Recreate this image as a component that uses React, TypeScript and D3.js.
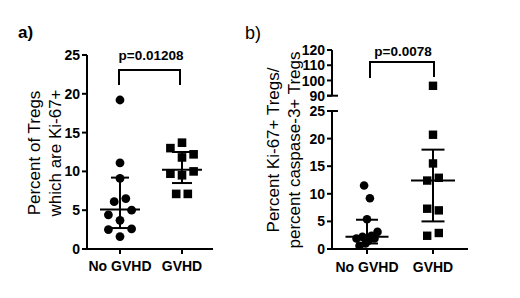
import React from "react";
import * as d3 from "d3";

// ---------- data ----------
const categories = ["No GVHD", "GVHD"];

// Panel a: percent of Tregs which are Ki-67+
const aNoGvhd = [1.6, 2.5, 2.6, 3.7, 4.4, 5.0, 6.1, 6.5, 9.1, 11.1, 19.2];
const aGvhd = [7.1, 7.1, 9.5, 9.7, 10.0, 11.8, 13.0, 12.2, 13.7];
// [center, lower, upper]
const aNoGvhdBar = [5.1, 2.7, 9.2];
const aGvhdBar = [10.2, 8.5, 12.5];
const aTicks = [0, 5, 10, 15, 20, 25];
const aP = "p=0.01208";

// Panel b: ratio Ki-67+ / caspase-3+ Tregs (broken axis)
const bNoGvhd = [11.5, 9.2, 5.4, 1.0, 1.5, 2.2, 2.4, 0.6, 1.9, 1.9, 3.1];
const bGvhd = [2.4, 2.9, 7.3, 7.0, 12.4, 12.9, 15.5, 20.7, 96.5];
const bNoGvhdBar = [2.2, 1.0, 5.3];
const bGvhdBar = [12.4, 5.0, 18.0];
const bTicksLow = [0, 5, 10, 15, 20, 25];
const bTicksHigh = [90, 100, 110, 120];
const bP = "p=0.0078";

// ---------- layout ----------
const FONT = "'Liberation Sans', Arial, Helvetica, sans-serif";
const BASE_Y = 249;

const yA = d3.scaleLinear().domain([0, 25]).range([BASE_Y, 55]);
const xA = d3.scalePoint<string>().domain(categories).range([120, 182]);

const yBLow = d3.scaleLinear().domain([0, 25]).range([BASE_Y, 111]);
const yBHigh = d3.scaleLinear().domain([90, 120]).range([95.7, 50]);
const yB = (v: number) => (v >= 90 ? yBHigh(v) : yBLow(v));
const xB = d3.scalePoint<string>().domain(categories).range([367, 433]);

// GraphPad-like scatter: group into rows by pixel height, spread each row symmetrically
function swarm(values: number[], y: (v: number) => number, rowH: number, step: number, maxHalf: number) {
  const idx = values.map((_, i) => i).sort((a, b) => y(values[b]) - y(values[a]));
  const offs = new Array(values.length).fill(0);
  let i = 0;
  while (i < idx.length) {
    const start = y(values[idx[i]]);
    const row = [idx[i]];
    let j = i + 1;
    while (j < idx.length && start - y(values[idx[j]]) < rowH) {
      row.push(idx[j]);
      j++;
    }
    row.sort((a, b) => a - b);
    const k = row.length;
    const s = k > 1 ? Math.min(step, (2 * maxHalf) / (k - 1)) : step;
    const slots = d3.range(k).map((m) => (m - (k - 1) / 2) * s);
    slots.sort((p, q) => Math.abs(p) - Math.abs(q) || p - q);
    row.forEach((r, m) => (offs[r] = slots[m]));
    i = j;
  }
  return offs;
}

function ErrorBar({ cx, bar, y, half, cap }: { cx: number; bar: number[]; y: (v: number) => number; half: number; cap: number }) {
  const [c, lo, hi] = bar;
  return (
    <g stroke="#000" strokeWidth={2}>
      <line x1={cx} x2={cx} y1={y(lo)} y2={y(hi)} />
      <line x1={cx - half} x2={cx + half} y1={y(c)} y2={y(c)} />
      <line x1={cx - cap} x2={cx + cap} y1={y(lo)} y2={y(lo)} />
      <line x1={cx - cap} x2={cx + cap} y1={y(hi)} y2={y(hi)} />
    </g>
  );
}

function Circles({ values, cx, y, offs, r }: { values: number[]; cx: number; y: (v: number) => number; offs: number[]; r: number }) {
  return (
    <g fill="#000">
      {values.map((v, i) => (
        <circle key={i} cx={cx + offs[i]} cy={y(v)} r={r} />
      ))}
    </g>
  );
}

function Squares({ values, cx, y, offs, s }: { values: number[]; cx: number; y: (v: number) => number; offs: number[]; s: number }) {
  return (
    <g fill="#000">
      {values.map((v, i) => (
        <rect key={i} x={cx + offs[i] - s / 2} y={y(v) - s / 2} width={s} height={s} />
      ))}
    </g>
  );
}

export default function App() {
  const axA = 87;
  const axB = 332;
  const tickStyle = { fontFamily: FONT, fontSize: 14, fontWeight: 700 as const };

  const offANo = swarm(aNoGvhd, yA, 11, 11.6, 20);
  const offAG = swarm(aGvhd, yA, 11, 11.6, 20);
  const offBNo = swarm(bNoGvhd, yB, 14, 5.8, 10.5);
  const offBG = swarm(bGvhd, yB, 11, 11.6, 20);

  return (
    <svg width={520} height={298} style={{ position: "absolute", left: 0, top: 0, background: "#fff" }}>
      <rect width={520} height={298} fill="#fff" />

      {/* ---------- Panel a ---------- */}
      <text x={18} y={38} fontFamily={FONT} fontSize={17} fontWeight={700}>a)</text>

      {/* y axis */}
      <line x1={axA} x2={axA} y1={yA(25)} y2={BASE_Y + 1} stroke="#000" strokeWidth={2} />
      {aTicks.map((t) => (
        <g key={t}>
          <line x1={axA - 5} x2={axA} y1={yA(t)} y2={yA(t)} stroke="#000" strokeWidth={2} />
          <text x={axA - 7} y={yA(t)} dy="0.36em" textAnchor="end" {...tickStyle}>{t}</text>
        </g>
      ))}
      {/* x axis */}
      <line x1={axA - 1} x2={213} y1={BASE_Y} y2={BASE_Y} stroke="#000" strokeWidth={2} />
      {categories.map((c) => (
        <g key={c}>
          <line x1={xA(c)!} x2={xA(c)!} y1={BASE_Y} y2={BASE_Y + 5} stroke="#000" strokeWidth={2} />
          <text x={xA(c)!} y={271} textAnchor="middle" {...tickStyle}>{c}</text>
        </g>
      ))}
      {/* axis title */}
      <g transform={`translate(0,153) rotate(-90)`} fontFamily={FONT} fontSize={17}>
        <text x={0} y={40} textAnchor="middle">Percent of Tregs</text>
        <text x={0} y={61} textAnchor="middle">which are Ki-67+</text>
      </g>
      {/* bracket */}
      <path
        d={`M${xA("No GVHD")! - 1},${85} V${70} H${xA("GVHD")! - 2} V${85}`}
        fill="none" stroke="#000" strokeWidth={2}
      />
      <text x={(xA("No GVHD")! + xA("GVHD")!) / 2} y={60} textAnchor="middle" fontFamily={FONT} fontSize={13.5} fontWeight={700}>{aP}</text>

      <Circles values={aNoGvhd} cx={xA("No GVHD")!} y={yA} offs={offANo} r={4.4} />
      <Squares values={aGvhd} cx={xA("GVHD")!} y={yA} offs={offAG} s={8.6} />
      <ErrorBar cx={xA("No GVHD")!} bar={aNoGvhdBar} y={yA} half={20} cap={9} />
      <ErrorBar cx={xA("GVHD")!} bar={aGvhdBar} y={yA} half={20} cap={10} />

      {/* ---------- Panel b ---------- */}
      <text x={245} y={39} fontFamily={FONT} fontSize={18}>b)</text>

      {/* upper y segment */}
      <line x1={axB} x2={axB} y1={yBHigh(120)} y2={yBHigh(90)} stroke="#000" strokeWidth={2} />
      <line x1={axB - 5} x2={axB + 6} y1={yBHigh(90)} y2={yBHigh(90)} stroke="#000" strokeWidth={2} />
      {bTicksHigh.map((t) => (
        <g key={t}>
          <line x1={axB - 5} x2={axB} y1={yBHigh(t)} y2={yBHigh(t)} stroke="#000" strokeWidth={2} />
          <text x={axB - 7} y={yBHigh(t)} dy="0.36em" textAnchor="end" {...tickStyle}>{t}</text>
        </g>
      ))}
      {/* lower y segment */}
      <line x1={axB} x2={axB} y1={yBLow(25)} y2={BASE_Y + 1} stroke="#000" strokeWidth={2} />
      <line x1={axB - 5} x2={axB + 6} y1={yBLow(25)} y2={yBLow(25)} stroke="#000" strokeWidth={2} />
      {bTicksLow.map((t) => (
        <g key={t}>
          <line x1={axB - 5} x2={axB} y1={yBLow(t)} y2={yBLow(t)} stroke="#000" strokeWidth={2} />
          <text x={axB - 7} y={yBLow(t)} dy="0.36em" textAnchor="end" {...tickStyle}>{t}</text>
        </g>
      ))}
      {/* x axis */}
      <line x1={axB - 1} x2={468} y1={BASE_Y} y2={BASE_Y} stroke="#000" strokeWidth={2} />
      {categories.map((c) => (
        <g key={c}>
          <line x1={xB(c)!} x2={xB(c)!} y1={BASE_Y} y2={BASE_Y + 5} stroke="#000" strokeWidth={2} />
          <text x={xB(c)!} y={272} textAnchor="middle" {...tickStyle}>{c}</text>
        </g>
      ))}
      {/* axis title */}
      <g transform={`translate(0,150) rotate(-90)`} fontFamily={FONT} fontSize={17}>
        <text x={0} y={279} textAnchor="middle">Percent Ki-67+ Tregs/</text>
        <text x={0} y={300} textAnchor="middle">percent caspase-3+ Tregs</text>
      </g>
      {/* bracket */}
      <path
        d={`M${xB("No GVHD")! + 3},${78} V${62} H${xB("GVHD")! + 1} V${77}`}
        fill="none" stroke="#000" strokeWidth={2}
      />
      <text x={(xB("No GVHD")! + xB("GVHD")!) / 2 + 3} y={56} textAnchor="middle" fontFamily={FONT} fontSize={13.5} fontWeight={700}>{bP}</text>

      <Circles values={bNoGvhd} cx={xB("No GVHD")!} y={yB} offs={offBNo} r={4.3} />
      <Squares values={bGvhd} cx={xB("GVHD")!} y={yB} offs={offBG} s={8.4} />
      <ErrorBar cx={xB("No GVHD")!} bar={bNoGvhdBar} y={yBLow} half={21.5} cap={11} />
      <ErrorBar cx={xB("GVHD")!} bar={bGvhdBar} y={yBLow} half={22} cap={11.5} />
    </svg>
  );
}
